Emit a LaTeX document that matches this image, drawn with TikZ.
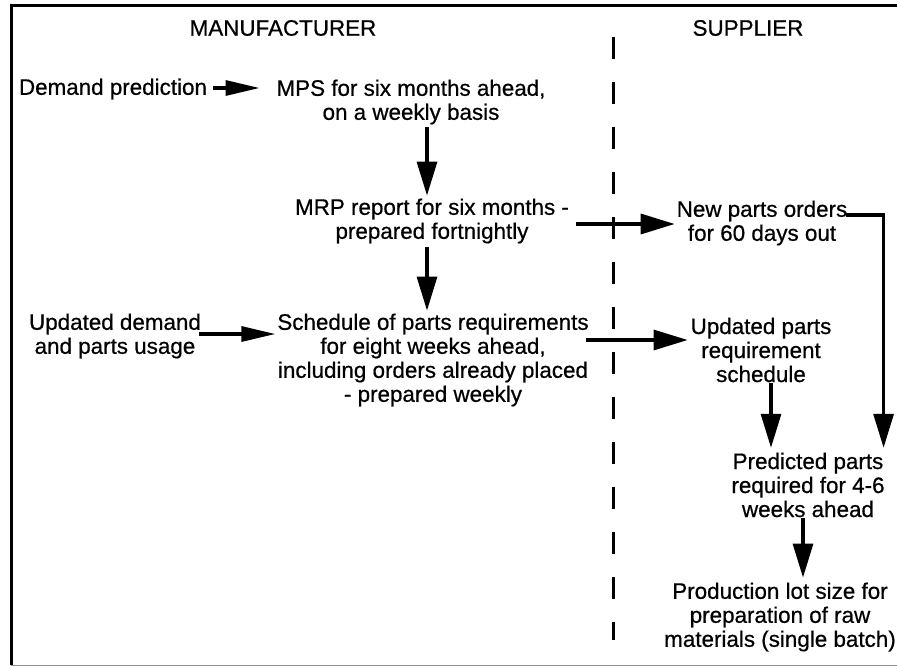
\documentclass[tikz,border=0pt]{standalone}
\usepackage{fontspec}
\setmainfont{Liberation Sans}[FakeBold=0.6]
\usetikzlibrary{arrows.meta,calc}
\begin{document}
\begin{tikzpicture}[x=1pt,y=-1pt,
  txt/.style={font=\fontsize{22.4}{24}\selectfont, align=center, inner sep=1pt, outer sep=0pt},
  arr/.style={line width=3.2pt, -{Triangle[length=34pt,width=20pt]}},
  harr/.style={line width=3.2pt, -{Triangle[length=34pt,width=15pt]}},
  frame/.style={line width=3pt}]
\useasboundingbox (0,0) rectangle (897,667);
% frame
\draw[frame] (897,5) -- (11,5) -- (11,665);
\draw[line width=1pt, black!45] (11,665) -- (897,665);
% divider
\draw[line width=3pt, dash pattern=on 22pt off 23pt] (613,37) -- (613,640);
% headings
\node[txt] (man) at (283,28) {MANUFACTURER};
\node[txt] (sup) at (748,28) {SUPPLIER};
% manufacturer side
\node[txt] (dem) at (113,89) {Demand prediction};
\node[txt] (mps) at (411,102) {MPS for six months ahead,\\on a weekly basis};
\node[txt] (mrp) at (432,221) {MRP report for six months -\\prepared fortnightly};
\node[txt] (upd) at (115,336) {Updated demand\\and parts usage};
\node[txt] (sch) at (433,360) {Schedule of parts requirements\\for eight weeks ahead,\\including orders already placed\\- prepared weekly};
% supplier side
\node[txt] (new) at (762,223) {New parts orders\\for 60 days out};
\node[txt] (ups) at (761,350) {Updated parts\\requirement\\schedule};
\node[txt] (pred) at (808,485) {Predicted parts\\required for 4-6\\weeks ahead};
\node[txt] (prod) at (780,617) {Production lot size for\\preparation of raw\\materials (single batch)};
% levels of the horizontal connectors
\coordinate (yA) at (0,88);
\coordinate (yB) at (0,224);
\coordinate (yC) at (0,334);
\coordinate (yD) at (0,340);
\coordinate (yE) at (0,215);
% connector end points
\coordinate (d1) at ($(dem.east)+(5,0)$);
\coordinate (d2) at ($(mps.west)+(-16,0)$);
\coordinate (u1) at ($(upd.east)+(-3,0)$);
\coordinate (u2) at ($(sch.west)+(-1,0)$);
\coordinate (m1) at ($(mrp.east)+(6,0)$);
\coordinate (n1) at ($(new.west)+(-1,0)$);
\coordinate (s1) at ($(sch.east)+(-4,0)$);
\coordinate (s2) at ($(ups.west)+(-2,0)$);
\coordinate (t1) at ($(new.east)+(-2,0)$);
\coordinate (t2) at ($(pred.north east)+(-2,-4)$);
% arrows
\draw[harr] (d1 |- yA) -- (d2 |- yA);
\draw[arr] ($(mps.south)+(16,2)$) -- ($(mrp.north)+(-5,-2)$);
\draw[arr] ($(mrp.south)+(-5,3)$) -- ($(sch.north)+(-6,-2)$);
\draw[arr] (m1 |- yB) -- (n1 |- yB);
\draw[harr] (u1 |- yC) -- (u2 |- yC);
\draw[arr] (s1 |- yD) -- (s2 |- yD);
\draw[line width=3.2pt, -{Triangle[length=34pt,width=20pt]}] (t1 |- yE) -| (t2);
\draw[arr] ($(ups.south)+(10,0)$) -- ($(pred.north)+(-37,-4)$);
\draw[arr] ($(pred.south)+(-5,0)$) -- ($(prod.north)+(23,-4)$);
\end{tikzpicture}
\end{document}
